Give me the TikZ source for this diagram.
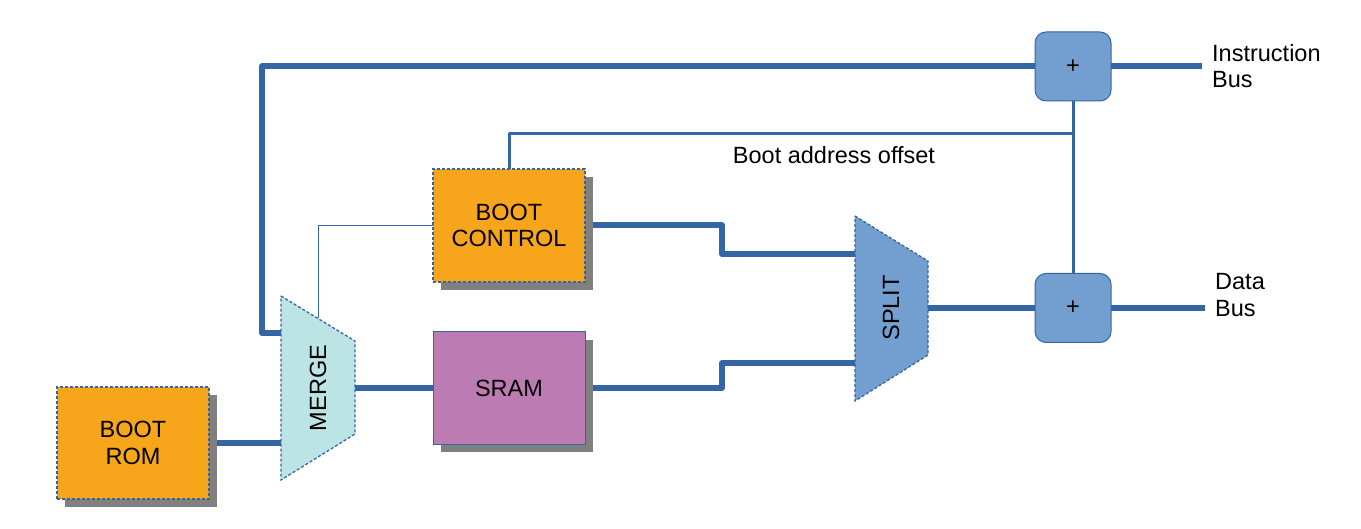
\documentclass[tikz,border=0pt]{standalone}
\usepackage{fontspec}
\setmainfont{Liberation Sans}
\usetikzlibrary{shadows,calc}
\definecolor{lblue}{HTML}{3465A4}
\definecolor{orng}{HTML}{F7A51B}
\definecolor{purp}{HTML}{BD7BB4}
\definecolor{lcyan}{HTML}{BDE4E4}
\definecolor{sblue}{HTML}{729FCF}
\pgfdeclarelayer{bg}
\pgfsetlayers{bg,main}
\tikzset{
  dashedborder/.style={draw=lblue, line width=1.3pt, dash pattern=on 3pt off 2pt},
  blockbox/.style={minimum width=152pt, minimum height=112pt, align=center, inner sep=0pt, anchor=north west, outer sep=0pt},
  shad/.style={drop shadow={shadow xshift=8pt, shadow yshift=-8pt, fill=gray, opacity=1}},
  plusbox/.style={draw=lblue, line width=1pt, fill=sblue, rounded corners=11pt, minimum width=76pt, minimum height=69pt, inner sep=0pt, outer sep=0pt},
  thickline/.style={draw=lblue, line width=6pt, line join=round},
  medline/.style={draw=lblue, line width=3pt, line join=round},
  thinline/.style={draw=lblue, line width=1pt},
  lbl/.style={align=left, anchor=west, inner sep=0pt}
}
\begin{document}
\begin{tikzpicture}[x=1pt,y=-1pt,font=\fontsize{23.5}{26.5}\selectfont]
\useasboundingbox (0,0) rectangle (1361,529);

% blocks
\node[blockbox, dashedborder, fill=orng, shad] (rom) at (57,387) {BOOT\\ROM};
\node[blockbox, dashedborder, fill=orng, shad, minimum height=113pt] (bc) at (433,169) {BOOT\\CONTROL};
\node[blockbox, draw=lblue, line width=1pt, fill=purp, shad] (sram) at (433,332) {SRAM};

% trapezoids
\draw[dashedborder, fill=lcyan] (281,296) -- (355,341) -- (355,434) -- (281,480) -- cycle;
\node[rotate=90, inner sep=0pt] (merge) at (318,388) {MERGE};
\draw[dashedborder, fill=sblue] (855,216) -- (928,261) -- (928,355) -- (855,401) -- cycle;
\node[rotate=90, inner sep=0pt] (split) at (891,308) {SPLIT};

\coordinate (mergeL1) at (281,333);
\coordinate (mergeL2) at (281,443);
\coordinate (mergeR) at (355,388);
\coordinate (mergeT) at (318,318.5);
\coordinate (splitL1) at (855,254);
\coordinate (splitL2) at (855,363);
\coordinate (splitR) at (928,308);

% adders
\node[plusbox] (pi) at (1073,66.5) {+};
\node[plusbox] (pd) at (1073,308) {+};

% bus ends and labels
\coordinate (ib) at (1202,66.5);
\coordinate (db) at (1205,308);
\node[lbl] (iblbl) at (1212,66) {Instruction\\Bus};
\node[lbl] (dblbl) at (1215,295) {Data\\Bus};
\node[inner sep=0pt] (offs) at (834,155) {Boot address offset};

\begin{pgfonlayer}{bg}
\draw[thickline] (rom.east) -- (mergeL2);
\draw[thickline] (mergeL1) -- (262,333) -- (262,66.5) -- (pi.west);
\draw[thinline] (mergeT) |- (bc.west);
\draw[medline] (bc.north) -- (509,134) -- (1073,134);
\draw[medline] (pi.south) -- (pd.north);
\draw[thickline] (mergeR) -- (sram.west);
\draw[thickline] (bc.east) -- (722,225.5) -- (722,254) -- (splitL1);
\draw[thickline] (sram.east) -- (722,388) -- (722,363) -- (splitL2);
\draw[thickline] (splitR) -- (pd.west);
\draw[thickline] (pi.east) -- (ib);
\draw[thickline] (pd.east) -- (db);
\end{pgfonlayer}
\end{tikzpicture}
\end{document}
